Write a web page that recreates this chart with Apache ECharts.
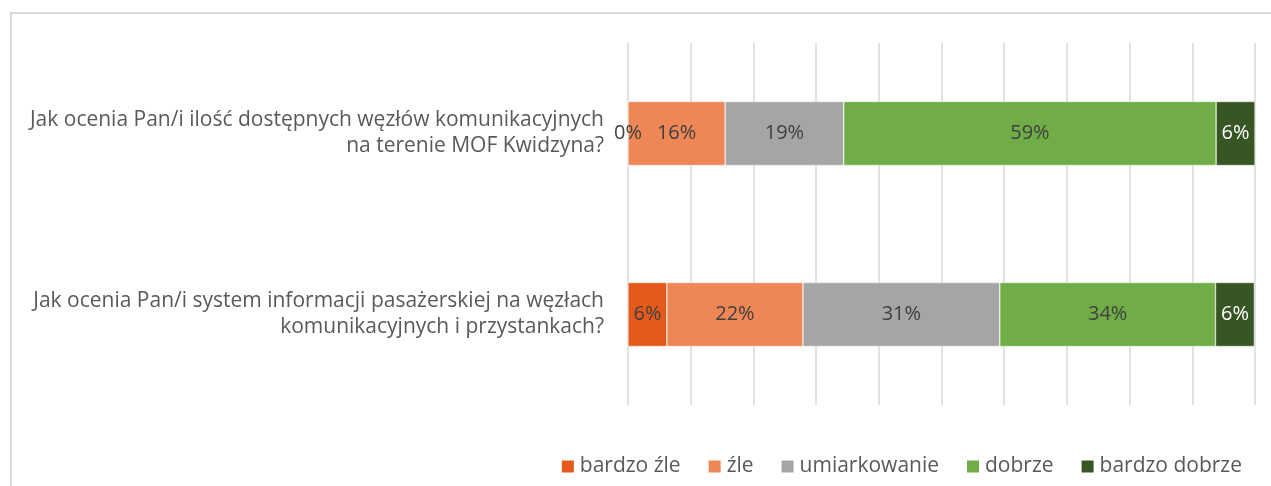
<!DOCTYPE html>
<html>
<head>
<meta charset="utf-8">
<script src="https://cdn.jsdelivr.net/npm/echarts@6/dist/echarts.min.js"></script>
<style>
  html, body { margin: 0; padding: 0; background: #fff; }
  #frame { position: absolute; left: 10px; top: 12px; width: 1400px; height: 600px;
           border-left: 2px solid #d9d9d9; border-top: 2px solid #d9d9d9; }
  #main { position: absolute; left: 0; top: 0; width: 1271px; height: 486px; }
</style>
</head>
<body>
<div id="frame"></div>
<div id="main"></div>
<script>
// pytania (od góry)
const questions = [
    'Jak ocenia Pan/i ilość dostępnych węzłów komunikacyjnych\nna terenie MOF Kwidzyna?',
    'Jak ocenia Pan/i system informacji pasażerskiej na węzłach\nkomunikacyjnych i przystankach?'
];
const seriesNames = ['bardzo źle', 'źle', 'umiarkowanie', 'dobrze', 'bardzo dobrze'];
const seriesColors = ['#E55A1B', '#EE8755', '#A5A5A5', '#70AD47', '#375623'];
const labelColors = ['#404040', '#404040', '#404040', '#404040', '#ffffff'];
const bardzoZle = [0, 6.2];
const zle = [15.5, 21.7];
const umiarkowanie = [18.9, 31.4];
const dobrze = [59.4, 34.4];
const bardzoDobrze = [6.2, 6.2];

const values = [bardzoZle, zle, umiarkowanie, dobrze, bardzoDobrze];
const fontFamily = 'Open Sans';

var chart = echarts.init(document.getElementById('main'));
chart.setOption({
    animation: false,
    grid: { left: 628, right: 16, top: 43, bottom: 81, containLabel: false },
    xAxis: {
        type: 'value',
        min: 0,
        max: 100,
        interval: 10,
        axisLabel: { show: false },
        axisLine: { show: false },
        axisTick: { show: false },
        splitLine: { lineStyle: { color: '#d9d9d9', width: 1.5 } }
    },
    yAxis: {
        type: 'category',
        inverse: true,
        data: questions,
        axisLine: { show: false },
        axisTick: { show: false },
        axisLabel: {
            margin: 24,
            align: 'right',
            color: '#595959',
            fontFamily: fontFamily,
            fontSize: 21,
            lineHeight: 26
        }
    },
    legend: {
        right: 24,
        top: 451,
        icon: 'rect',
        itemWidth: 14,
        itemHeight: 14,
        itemGap: 26,
        textStyle: { color: '#595959', fontFamily: fontFamily, fontSize: 21 },
        data: seriesNames
    },
    series: seriesNames.map((name, i) => ({
        name: name,
        type: 'bar',
        stack: 'total',
        barWidth: 64,
        data: values[i],
        itemStyle: { color: seriesColors[i], borderColor: '#ffffff', borderWidth: 0.5 },
        label: {
            show: true,
            position: 'inside',
            color: labelColors[i],
            fontFamily: fontFamily,
            fontSize: 20,
            formatter: p => Math.round(p.value) + '%'
        }
    }))
});
</script>
</body>
</html>
